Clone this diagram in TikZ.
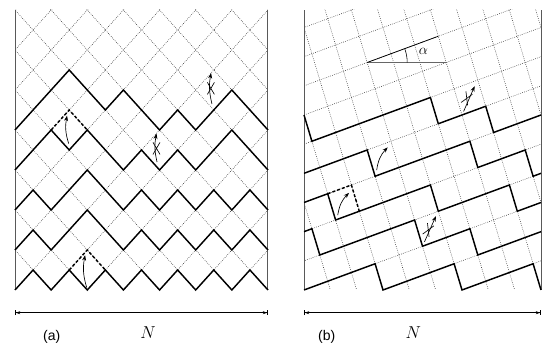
\documentclass[tikz,border=0pt]{standalone}
\usepackage{fontspec}
\setmainfont{Liberation Sans}
\usetikzlibrary{arrows.meta}
\begin{document}
\begin{tikzpicture}[x=1pt,y=1pt,
  gridline/.style={black!85, line width=0.5pt, dash pattern=on 0.7pt off 1.3pt},
  chain/.style={line width=1.45pt, line join=miter},
  flipped/.style={line width=1.45pt, dash pattern=on 3pt off 2pt},
  wall/.style={line width=1pt, black!65},
  move/.style={line width=0.65pt, -{Stealth[length=5.5pt,width=4pt]}},
  crossmark/.style={line width=0.65pt},
  dimline/.style={line width=0.7pt, {Bar[width=5pt]Stealth[length=4.5pt,width=3pt]}-{Stealth[length=4.5pt,width=3pt]Bar[width=5pt]}},
  panellabel/.style={font=\fontsize{14}{16}\selectfont, inner sep=0pt},
  sizelabel/.style={font=\fontsize{19}{22}\selectfont, inner sep=0pt},
]
\useasboundingbox (0,0) rectangle (543,347);

% ---------------- panel (a) ----------------
\begin{scope}[shift={(15pt,57pt)}, x=18.07pt, y=20pt]
  \begin{scope}
    \clip (0,0) rectangle (14,14);
    \foreach \c in {-14,-12,...,14} \draw[gridline] (-1,{\c-1}) -- (15,{\c+15});
    \foreach \c in {0,2,...,28} \draw[gridline] (-1,{\c+1}) -- (15,{\c-15});
  \end{scope}
  \draw[wall] (0,0) -- (0,14);
  \draw[wall] (14,0) -- (14,14);
  % chains
  \draw[chain] (0,0)--(1,1)--(2,0)--(3,1)--(4,0)--(5,1)--(6,0)--(7,1)--(8,0)--(9,1)--(10,0)--(11,1)--(12,0)--(13,1)--(14,0);
  \draw[chain] (0,2)--(1,3)--(2,2)--(4,4)--(6,2)--(7,3)--(8,2)--(9,3)--(10,2)--(11,3)--(12,2)--(13,3)--(14,2);
  \draw[chain] (0,4)--(1,5)--(2,4)--(4,6)--(6,4)--(7,5)--(8,4)--(9,5)--(10,4)--(11,5)--(12,4)--(13,5)--(14,4);
  \draw[chain] (0,6)--(2,8)--(3,7)--(4,8)--(6,6)--(7,7)--(8,6)--(9,7)--(10,6)--(12,8)--(14,6);
  \draw[chain] (0,8)--(3,11)--(5,9)--(6,10)--(8,8)--(9,9)--(10,8)--(12,10)--(14,8);
  % flipped corners
  \draw[flipped] (3,1)--(4,2)--(5,1);
  \draw[flipped] (2,8)--(3,9)--(4,8);
  % moves
  \draw[move] (3.97,0.12) to[bend left=14] (3.88,1.74);
  \draw[move] (2.97,7.32) to[bend left=14] (2.88,8.72);
  \draw[move] (7.86,6.4) to[bend left=12] (7.83,7.82);
  \draw[move] (10.9,9.3) to[bend left=12] (10.85,10.85);
  \draw[crossmark] (7.83,7.08) +(-3.5pt,-6pt) -- +(3.5pt,6pt) +(3.5pt,-6pt) -- +(-3.5pt,6pt);
  \draw[crossmark] (10.84,10.08) +(-3.5pt,-6pt) -- +(3.5pt,6pt) +(3.5pt,-6pt) -- +(-3.5pt,6pt);
\end{scope}

% ---------------- panel (b) ----------------
\begin{scope}[shift={(304pt,57pt)}, x=7.9pt, y=8.75pt]
  \begin{scope}
    \clip (0,0) rectangle (30,32);
    \foreach \b in {-10,...,3} \draw[gridline] ({10*\b-6},-2) -- ({10*\b+102},34);
    \foreach \a in {0,...,13} \draw[gridline] ({10*\a/3+2},-6) -- ({10*\a/3-12},36);
  \end{scope}
  \draw[wall] (0,0) -- (0,32);
  \draw[wall] (30,0) -- (30,32);
  % chains
  \draw[chain] (0,0)--(9,3)--(10,0)--(19,3)--(20,0)--(29,3)--(30,0);
  \draw[chain] (0,{20/3})--(1,7)--(2,4)--(14,8)--(15,5)--(21,7)--(22,4)--(30,{20/3});
  \draw[chain] (0,10)--(3,11)--(4,8)--(16,12)--(17,9)--(26,12)--(27,9)--(30,10);
  \draw[chain] (0,{40/3})--(8,16)--(9,13)--(21,17)--(22,14)--(28,16)--(29,13)--(30,{40/3});
  \draw[chain] (0,20)--(1,17)--(16,22)--(17,19)--(23,21)--(24,18)--(30,20);
  % flipped corner
  \draw[flipped] (3,11)--(6,12)--(7,9);
  % moves
  \draw[move] (4.27,8.55) to[bend left=18] (5.7,11.1);
  \draw[move] (9.2,13.7) to[bend left=18] (10.6,16.3);
  \draw[move] (15.25,5.5) -- (16.7,8.45);
  \draw[move] (20.2,20.4) -- (21.6,23.3);
  \draw[crossmark] (15.73,6.86) +(-5.6pt,-4.1pt) -- +(5.6pt,4.1pt) +(0.8pt,-6.9pt) -- +(-0.8pt,6.9pt);
  \draw[crossmark] (20.6,21.9) +(-5.6pt,-4.1pt) -- +(5.6pt,4.1pt) +(0.8pt,-6.9pt) -- +(-0.8pt,6.9pt);
  % angle alpha
  \coordinate (alphaorigin) at (8,26);
  \coordinate (alphatilt) at (17,29);
  \coordinate (alphaflat) at (18.05,26);
\end{scope}
\draw[line width=0.75pt, black!60] (alphaorigin) -- (alphaflat);
\draw[line width=0.75pt] (alphaorigin) -- (alphatilt);
\draw[line width=0.6pt] (alphaorigin) ++(40pt,0) arc[start angle=0, end angle=20.3, radius=40pt];
\node[font=\fontsize{15}{17}\selectfont, inner sep=0pt] (alphalabel) at (423.5,295.5) {$\alpha$};

% ---------------- dimension lines and labels ----------------
\coordinate (na1) at (15,34.3);
\coordinate (na2) at (268,34.3);
\coordinate (nb1) at (304,34.3);
\coordinate (nb2) at (541,34.3);
\draw[dimline] (na1) -- (na2);
\draw[dimline] (nb1) -- (nb2);
\node[panellabel] (labela) at (51.7,10.3) {(a)};
\node[panellabel] (labelb) at (326.7,10.3) {(b)};
\node[sizelabel] (sizea) at (148,14) {$N$};
\node[sizelabel] (sizeb) at (413.3,14) {$N$};
\end{tikzpicture}
\end{document}
